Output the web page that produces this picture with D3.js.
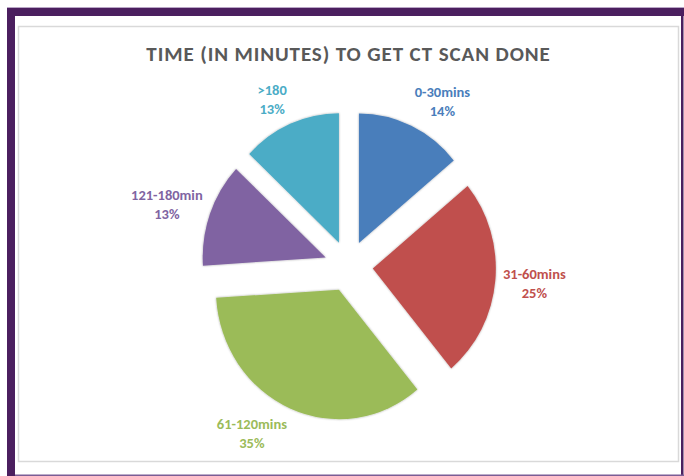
<!DOCTYPE html>
<html>
<head>
<meta charset="utf-8">
<script src="https://cdn.jsdelivr.net/npm/d3@7"></script>
<style>
  body { margin: 0; background: #fff; }
  svg { display: block; }
</style>
</head>
<body>
<div id="chart"></div>
<script>
// Categorias e valores (%)
const categorias = ["0-30mins", "31-60mins", "61-120mins", "121-180min", ">180"];
const valores = [14, 25, 35, 13, 13];
const cores = ["#4a7ebb", "#c0504d", "#9bbb59", "#8064a2", "#4bacc6"];

const W = 684, H = 476;
const fonte = "Carlito, Calibri, Lato, sans-serif";

const svg = d3.select("#chart").append("svg")
  .attr("width", W)
  .attr("height", H);

// Moldura roxa externa
svg.append("rect").attr("x", 7).attr("y", 7).attr("width", W - 7).attr("height", 1).attr("fill", "#b9a6c6");
svg.append("rect").attr("x", 7).attr("y", 8).attr("width", W - 7).attr("height", 8).attr("fill", "#4b1f5f");
svg.append("rect").attr("x", 7).attr("y", 8).attr("width", 8).attr("height", H - 8).attr("fill", "#4b1f5f");
svg.append("rect").attr("x", 681).attr("y", 8).attr("width", 2.5).attr("height", H - 8).attr("fill", "#4b1f5f");
svg.append("rect").attr("x", 15).attr("y", 474.5).attr("width", W - 15).attr("height", 1.5).attr("fill", "#7b5d95");

// Área do gráfico
svg.append("rect")
  .attr("x", 18.5).attr("y", 26.5)
  .attr("width", 660).attr("height", 435)
  .attr("fill", "#fff")
  .attr("stroke", "#d9d9d9")
  .attr("stroke-width", 1.5);

// Título
svg.append("text")
  .attr("x", 348.5)
  .attr("y", 61)
  .attr("text-anchor", "middle")
  .style("font-family", fonte)
  .style("font-size", "21px")
  .style("letter-spacing", "0.9px")
  .style("font-weight", "bold")
  .attr("fill", "#595959")
  .text("TIME (IN MINUTES) TO GET CT SCAN DONE");

// Sombra suave das fatias
const defs = svg.append("defs");
const filtro = defs.append("filter").attr("id", "sombra")
  .attr("x", "-10%").attr("y", "-10%").attr("width", "120%").attr("height", "120%");
filtro.append("feDropShadow")
  .attr("dx", 0).attr("dy", 0)
  .attr("stdDeviation", 1.3)
  .attr("flood-color", "#000")
  .attr("flood-opacity", 0.35);

// Pizza explodida
const cx = 348.6, cy = 266.2;
const raio = 129.5;
const explode = 25.6;
const sx = 0.95; // o gráfico original está levemente achatado na horizontal

const pie = d3.pie().sort(null).value(d => d);
const arcos = pie(valores);
const arc = d3.arc().innerRadius(0).outerRadius(raio);

const g = svg.append("g")
  .attr("transform", `translate(${cx},${cy}) scale(${sx},1)`);

g.selectAll("path")
  .data(arcos)
  .join("path")
  .attr("transform", d => {
    const a = (d.startAngle + d.endAngle) / 2;
    return `translate(${explode * Math.sin(a)},${-explode * Math.cos(a)})`;
  })
  .attr("d", arc)
  .attr("fill", (d, i) => cores[i])
  .attr("filter", "url(#sombra)");

// Rótulos (fora da ponta de cada fatia)
const rLabel = raio + explode + 8;
const alturaLinha = 19;

arcos.forEach((d, i) => {
  const a = (d.startAngle + d.endAngle) / 2;
  const t = svg.append("text")
    .attr("text-anchor", "middle")
    .style("font-family", fonte)
    .style("font-size", "14.5px")
    .style("font-weight", "bold")
    .attr("fill", cores[i]);
  t.append("tspan").attr("x", 0).attr("dy", 0).text(categorias[i]);
  t.append("tspan").attr("x", 0).attr("dy", alturaLinha).text(valores[i] + "%");

  const w = t.node().getBBox().width;
  const h = alturaLinha * 2;
  const px = cx + sx * rLabel * Math.sin(a) + Math.sign(Math.sin(a)) * w / 2;
  const py = cy - rLabel * Math.cos(a) - Math.cos(a) * h / 2;
  // centro do bloco de duas linhas em (px, py)
  t.attr("transform", `translate(${px},${py - alturaLinha / 2 + 5})`);
});
</script>
</body>
</html>
